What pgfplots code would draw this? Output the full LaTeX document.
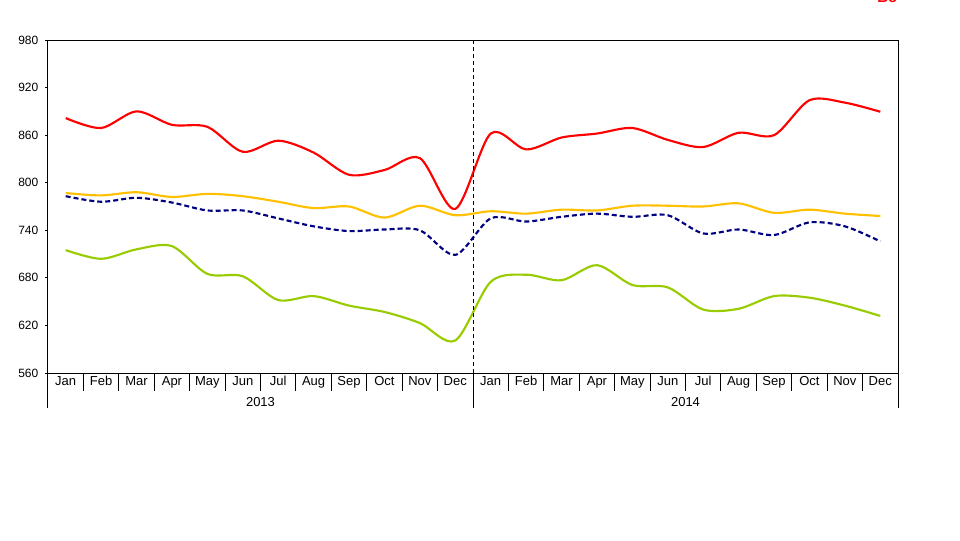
\documentclass[border=0pt]{standalone}
\usepackage{pgfplots}
\pgfplotsset{compat=1.18}
\usepackage{fontspec}
\setmainfont{Liberation Sans}
\definecolor{cred}{HTML}{FF0000}
\definecolor{cyel}{HTML}{FFC000}
\definecolor{cnavy}{HTML}{000080}
\definecolor{cgreen}{HTML}{99CC00}
\begin{document}
\begin{tikzpicture}
\path[use as bounding box] (0,0) rectangle (720pt,405pt);
\node[anchor=base west, text=cred, font=\fontsize{11.25pt}{13pt}\selectfont\bfseries, inner sep=0pt] at (657.75pt,402.75pt) {Bo};
\begin{axis}[
  at={(36pt,125.25pt)}, anchor=south west,
  scale only axis, width=637.5pt, height=249.75pt,
  xmin=-0.5, xmax=23.5, ymin=560, ymax=980,
  ytick={560,620,...,980},
  xtick={0,...,23},
  xticklabels={Jan,Feb,Mar,Apr,May,Jun,Jul,Aug,Sep,Oct,Nov,Dec,Jan,Feb,Mar,Apr,May,Jun,Jul,Aug,Sep,Oct,Nov,Dec},
  x tick style={draw=none},
  ytick pos=left, tick align=outside,
  major tick length=2.25pt,
  y tick style={black, line width=0.75pt},
  axis line style={black, line width=0.75pt},
  xticklabel style={font=\fontsize{9.75pt}{11pt}\selectfont, anchor=base, yshift=-6.75pt},
  yticklabel style={font=\fontsize{9pt}{11pt}\selectfont, xshift=-1.5pt},
  /pgf/number format/assume math mode=true,
  clip=false,
]
\addplot[cred, line width=1.6pt, smooth, tension=0.5] coordinates {
(0,881.5)(1,869)(2,890)(3,873)(4,870.5)(5,839)(6,853)(7,838)(8,810)(9,816)(10,831)(11,767)
(12,862)(13,842)(14,857)(15,862)(16,869)(17,854)(18,845)(19,863)(20,860)(21,904)(22,901)(23,889.5)};
\addplot[cyel, line width=1.6pt, smooth, tension=0.5] coordinates {
(0,787)(1,784)(2,788)(3,782)(4,786)(5,783)(6,776)(7,768)(8,770)(9,756)(10,771)(11,759)
(12,764)(13,761)(14,766)(15,765)(16,771)(17,771)(18,770)(19,774)(20,762)(21,766)(22,761)(23,758)};
\addplot[cnavy, line width=1.6pt, smooth, tension=0.5, dash pattern=on 3.75pt off 2.25pt] coordinates {
(0,783)(1,776)(2,781)(3,775)(4,765)(5,765)(6,755)(7,745)(8,739)(9,741)(10,740)(11,709)
(12,755)(13,751)(14,757)(15,761)(16,757)(17,759)(18,736)(19,741)(20,734)(21,750)(22,745)(23,726)};
\addplot[cgreen, line width=1.6pt, smooth, tension=0.5] coordinates {
(0,715)(1,704)(2,716)(3,720)(4,685)(5,682)(6,652)(7,657)(8,645)(9,637)(10,623)(11,601)
(12,675)(13,684)(14,677)(15,696)(16,671)(17,668)(18,640)(19,641)(20,657)(21,655)(22,645)(23,632)};
% dashed divider between years
\draw[black, line width=0.75pt, dash pattern=on 3pt off 2.25pt] (axis cs:11.5,560) -- (axis cs:11.5,980);
% category separators
\pgfplotsinvokeforeach{0.5,1.5,2.5,3.5,4.5,5.5,6.5,7.5,8.5,9.5,10.5,11.5,12.5,13.5,14.5,15.5,16.5,17.5,18.5,19.5,20.5,21.5,22.5}{
  \draw[black, line width=0.75pt] (axis cs:#1,560) -- ([yshift=-13.5pt]axis cs:#1,560);
}
\pgfplotsinvokeforeach{-0.5,11.5,23.5}{
  \draw[black, line width=0.75pt] (axis cs:#1,560) -- ([yshift=-26.25pt]axis cs:#1,560);
}
\node[anchor=base, font=\fontsize{9.75pt}{11pt}\selectfont, inner sep=0pt] at ([yshift=-24.75pt]axis cs:5.5,560) {2013};
\node[anchor=base, font=\fontsize{9.75pt}{11pt}\selectfont, inner sep=0pt] at ([yshift=-24.75pt]axis cs:17.5,560) {2014};
\end{axis}
\end{tikzpicture}
\end{document}
